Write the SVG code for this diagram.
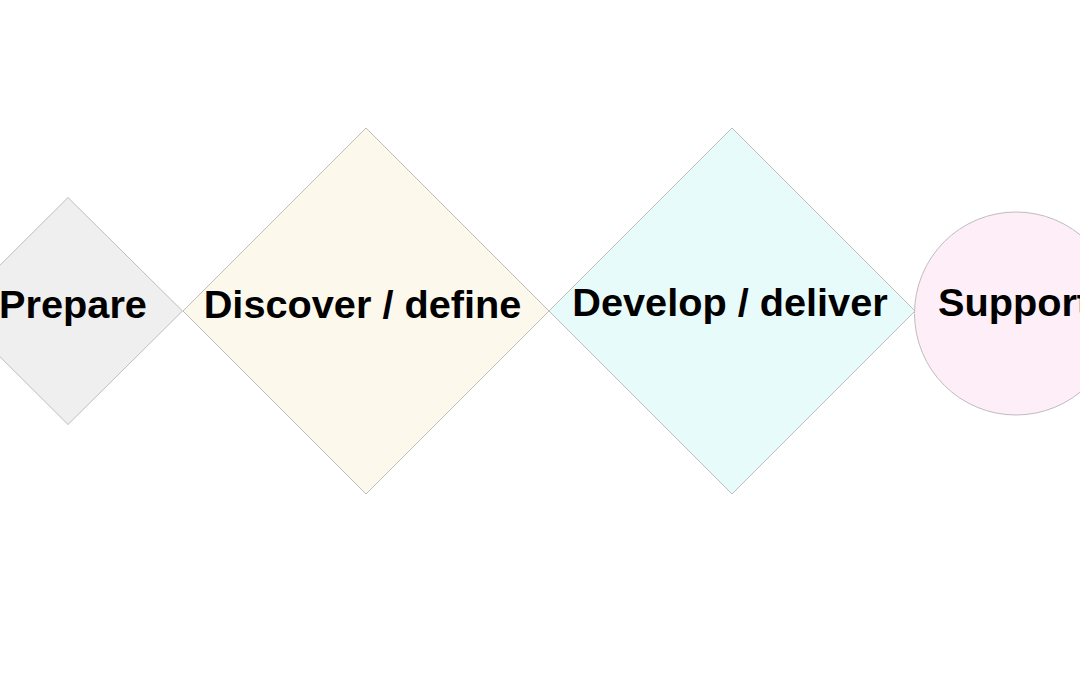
<svg xmlns="http://www.w3.org/2000/svg" width="1080" height="675" viewBox="0 0 1080 675">
<style>
.shape{stroke:#bdbdbd;stroke-width:1}
.lbl{font-family:"Liberation Sans",Arial,sans-serif;font-weight:bold;font-size:39.7px;fill:#000;text-anchor:middle}
</style>
<rect width="1080" height="675" fill="#ffffff"/>
<g id="connectors"></g>
<g id="prepare">
<polygon class="shape" points="68,197.5 182.5,311 68,424.5 -46,311" fill="#efefef"/>
<text class="lbl" x="73" y="318">Prepare</text>
</g>
<g id="discover">
<polygon class="shape" points="366,128 549,311 366,494 183,311" fill="#fdf8ec"/>
<text class="lbl" x="362.5" y="318">Discover / define</text>
</g>
<g id="develop">
<polygon class="shape" points="732,128 915,311 732,494 549,311" fill="#e8fbfb"/>
<text class="lbl" x="730" y="316">Develop / deliver</text>
</g>
<g id="support">
<circle class="shape" cx="1016" cy="313.5" r="101.5" fill="#fdeef8"/>
<text class="lbl" x="1014" y="316">Support</text>
</g>
</svg>
